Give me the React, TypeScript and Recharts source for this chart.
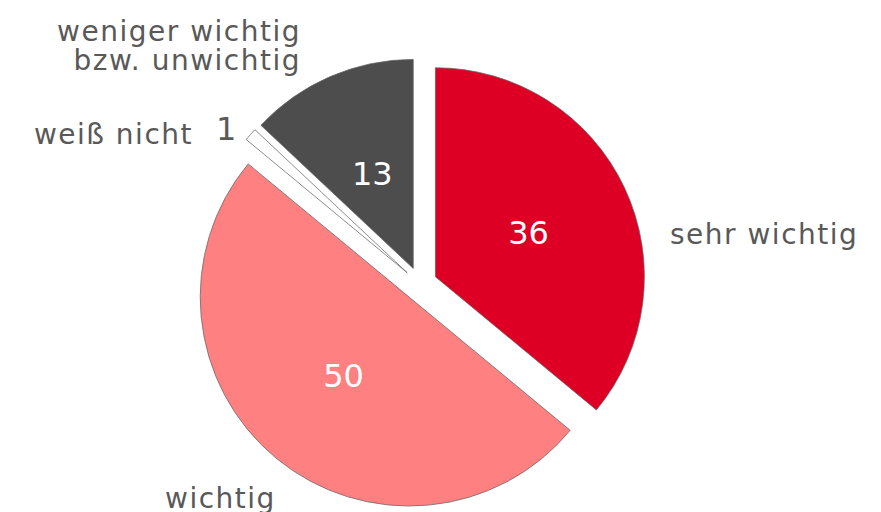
import { PieChart, Pie, Cell, Sector } from 'recharts';

// Wichtigkeit – Anteile in Prozent
const categories = ['sehr wichtig', 'wichtig', 'weiß nicht', 'weniger wichtig bzw. unwichtig'];
const shares = [36, 50, 1, 13];
const colors = ['#DE0024', '#FF8080', '#FFFFFF', '#4D4D4D'];
const nameLines = [['sehr wichtig'], ['wichtig'], ['weiß nicht'], ['weniger wichtig', 'bzw. unwichtig']];

// label placement, offsets from the pie centre
const nameOffsets = [
  { dx: 250, dy: -40, anchor: 'start' },
  { dx: -255, dy: 224, anchor: 'start' },
  { dx: -227, dy: -140, anchor: 'end' },
  { dx: -119, dy: -243, anchor: 'end' },
];

const data = categories.map((name, i) => ({ name, value: shares[i] }));

const RADIAN = Math.PI / 180;
const EXPLODE = 17;
const TEXT = '#595959';

const ExplodedSector = (props: any) => {
  const { cx, cy, midAngle } = props;
  const dx = EXPLODE * Math.cos(-midAngle * RADIAN);
  const dy = EXPLODE * Math.sin(-midAngle * RADIAN);
  return <Sector {...props} cx={cx + dx} cy={cy + dy} />;
};

const renderLabel = (props: any) => {
  const { cx, cy, midAngle, outerRadius, index, value } = props;
  const cos = Math.cos(-midAngle * RADIAN);
  const sin = Math.sin(-midAngle * RADIAN);
  const inside = value >= 5;
  const r = inside ? 120 : outerRadius + EXPLODE + 8;
  const vx = cx + r * cos + (inside ? 0 : -8);
  const vy = cy + r * sin;
  const off = nameOffsets[index];
  return (
    <g key={`lbl-${index}`}>
      <text
        x={vx}
        y={vy}
        fill={inside ? '#FFFFFF' : TEXT}
        fontSize={32}
        textAnchor={inside ? 'middle' : 'end'}
        dominantBaseline="central"
      >
        {value}
      </text>
      {nameLines[index].map((line, j) => (
        <text
          key={j}
          x={cx + off.dx}
          y={cy + off.dy + j * 29}
          fill={TEXT}
          fontSize={28}
          letterSpacing={1.5}
          textAnchor={off.anchor as any}
        >
          {line}
        </text>
      ))}
    </g>
  );
};

export default function App() {
  return (
    <div style={{ position: 'absolute', left: 0, top: 0, width: 881, height: 512, background: '#fff' }}>
      <PieChart width={881} height={512} style={{ fontFamily: '"DejaVu Sans", Verdana, sans-serif' }}>
        <Pie
          data={data}
          dataKey="value"
          nameKey="name"
          cx={415}
          cy={279}
          outerRadius={209}
          startAngle={90}
          endAngle={-270}
          stroke="#666666"
          strokeWidth={0.75}
          shape={ExplodedSector}
          activeShape={ExplodedSector}
          inactiveShape={ExplodedSector}
          label={renderLabel}
          labelLine={false}
          isAnimationActive={false}
        >
          {data.map((d, i) => (
            <Cell key={d.name} fill={colors[i]} />
          ))}
        </Pie>
      </PieChart>
    </div>
  );
}
